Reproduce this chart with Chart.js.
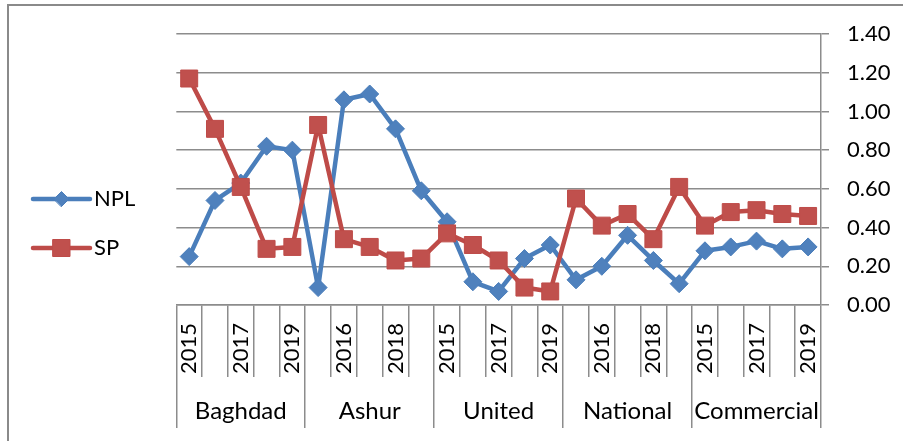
<!DOCTYPE html>
<html>
<head>
<meta charset="utf-8">
<script src="https://cdn.jsdelivr.net/npm/chart.js@4.4.1/dist/chart.umd.min.js"></script>
<style>
  html, body { margin: 0; padding: 0; background: #fff; }
  #wrap { width: 903px; height: 441px; position: relative; }
  canvas { display: block; }
</style>
</head>
<body>
<div id="wrap"><canvas id="c" width="903" height="441"></canvas></div>
<script>
// ---- data ----
const banks = ['Baghdad', 'Ashur', 'United', 'National', 'Commercial'];
const years = ['2015', '2016', '2017', '2018', '2019'];
const npl = [0.25, 0.54, 0.63, 0.82, 0.80,
             0.09, 1.06, 1.09, 0.91, 0.59,
             0.43, 0.12, 0.07, 0.24, 0.31,
             0.13, 0.20, 0.36, 0.23, 0.11,
             0.28, 0.30, 0.33, 0.29, 0.30];
const sp  = [1.17, 0.91, 0.61, 0.29, 0.30,
             0.93, 0.34, 0.30, 0.23, 0.24,
             0.37, 0.31, 0.23, 0.09, 0.07,
             0.55, 0.41, 0.47, 0.34, 0.61,
             0.41, 0.48, 0.49, 0.47, 0.46];
const yMin = 0, yMax = 1.4, yStep = 0.2;

// ---- derived label tables ----
const yearLabels = banks.flatMap(() => years);
const bankLabels = banks.flatMap(b => years.map((y, j) => (j === 2 ? b : '')));

const GRID = '#8c8c8c';
const BLUE_LINE = '#4A7EBB', BLUE_FILL = '#4F81BD';
const RED_LINE = '#BE4B48', RED_FILL = '#C0504D';
const FONT = 'Lato';

const frame = {
  id: 'frame',
  beforeDraw(chart) {
    const ctx = chart.ctx;
    ctx.save();
    ctx.fillStyle = '#fff';
    ctx.fillRect(0, 0, chart.width, chart.height);
    ctx.strokeStyle = '#8a8a8a';
    ctx.lineWidth = 2;
    ctx.beginPath();
    ctx.moveTo(8, chart.height);
    ctx.lineTo(8, 5);
    ctx.lineTo(chart.width, 5);
    ctx.stroke();
    ctx.restore();
  }
};

const legendMarks = {
  id: 'legendMarks',
  afterDraw(chart) {
    const lg = chart.legend;
    if (!lg || !lg.legendHitBoxes) return;
    const ctx = chart.ctx;
    lg.legendItems.forEach((item, i) => {
      const hb = lg.legendHitBoxes[i];
      const ds = chart.data.datasets[item.datasetIndex];
      const x0 = hb.left + 3, x1 = hb.left + 60, y = hb.top + hb.height / 2;
      const cx = (x0 + x1) / 2;
      ctx.save();
      ctx.strokeStyle = ds.borderColor;
      ctx.lineWidth = 4.5;
      ctx.lineCap = 'round';
      ctx.beginPath();
      ctx.moveTo(x0, y);
      ctx.lineTo(x1, y);
      ctx.stroke();
      ctx.fillStyle = ds.pointBackgroundColor;
      ctx.strokeStyle = ds.pointBorderColor;
      ctx.lineWidth = 1;
      ctx.beginPath();
      if (ds.pointStyle === 'rectRot') {
        const r = 7.5;
        ctx.moveTo(cx - r, y); ctx.lineTo(cx, y - r); ctx.lineTo(cx + r, y); ctx.lineTo(cx, y + r);
        ctx.closePath();
      } else {
        const h = 8.5;
        ctx.rect(cx - h, y - h, 2 * h, 2 * h);
      }
      ctx.fill();
      ctx.stroke();
      ctx.restore();
    });
  }
};

new Chart(document.getElementById('c'), {
  type: 'line',
  data: {
    labels: yearLabels,
    datasets: [
      {
        label: 'NPL', data: npl, order: 1,
        borderColor: BLUE_LINE, backgroundColor: BLUE_FILL, borderWidth: 4.5,
        borderJoinStyle: 'round', borderCapStyle: 'round', tension: 0,
        pointStyle: 'rectRot', pointRadius: 9, pointBorderWidth: 1,
        pointBackgroundColor: BLUE_FILL, pointBorderColor: BLUE_LINE,
        xAxisID: 'x', yAxisID: 'y'
      },
      {
        label: 'SP', data: sp, order: 0,
        borderColor: RED_LINE, backgroundColor: RED_FILL, borderWidth: 4.5,
        borderJoinStyle: 'round', borderCapStyle: 'round', tension: 0,
        pointStyle: 'rect', pointRadius: 12, pointBorderWidth: 1,
        pointBackgroundColor: RED_FILL, pointBorderColor: RED_LINE,
        xAxisID: 'x', yAxisID: 'y'
      }
    ]
  },
  options: {
    responsive: false,
    devicePixelRatio: 1,
    animation: false,
    events: [],
    layout: { padding: { left: 20, top: 34, right: 0, bottom: 28 } },
    plugins: {
      tooltip: { enabled: false },
      title: { display: false },
      legend: {
        display: true,
        position: 'left',
        align: 'center',
        labels: {
          boxWidth: 53, boxHeight: 39, padding: 10,
          color: '#000',
          font: { family: FONT, size: 22 },
          sort: (a, b) => a.datasetIndex - b.datasetIndex,
          generateLabels(chart) {
            const items = Chart.defaults.plugins.legend.labels.generateLabels(chart);
            items.forEach(it => { it.fillStyle = 'rgba(0,0,0,0)'; it.strokeStyle = 'rgba(0,0,0,0)'; it.lineWidth = 0; });
            return items;
          }
        }
      }
    },
    scales: {
      x: {
        type: 'category', position: 'bottom', offset: true, weight: 0,
        grid: { offset: true, drawOnChartArea: false, drawTicks: true, tickLength: 72, color: GRID, lineWidth: 1.5 },
        border: { display: true, color: GRID, width: 1.5 },
        ticks: {
          autoSkip: false, minRotation: 90, maxRotation: 90, padding: -54,
          color: '#000', font: { family: FONT, size: 22 },
          callback(v, i) { return i % 2 ? '' : this.getLabelForValue(v); }
        },
        afterFit(s) { s.height = 72; }
      },
      x2: {
        type: 'category', labels: bankLabels, position: 'bottom', offset: true, weight: 1,
        grid: {
          offset: true, drawOnChartArea: false, drawTicks: true, tickLength: 51, lineWidth: 1.5,
          color: (c) => (c.index === undefined || c.index % 5 === 0) ? GRID : 'rgba(0,0,0,0)'
        },
        border: { display: false },
        ticks: {
          autoSkip: false, minRotation: 0, maxRotation: 0, mirror: true, padding: -49,
          color: '#000', font: { family: FONT, size: 24 }
        },
        afterFit(s) { s.height = 36; }
      },
      y: {
        type: 'linear', position: 'right', min: yMin, max: yMax,
        grid: { color: GRID, lineWidth: 1.5, drawTicks: true, tickLength: 8 },
        border: { display: true, color: GRID, width: 1.5 },
        ticks: {
          stepSize: yStep, padding: 18, color: '#000',
          font: { family: FONT, size: 22 },
          callback: (v) => Number(v).toFixed(2)
        },
        afterFit(s) { s.width = 82; }
      },
      yL: {
        type: 'linear', position: 'left', display: true,
        grid: { display: false }, border: { display: false }, ticks: { display: false },
        afterFit(s) { s.width = 31; }
      }
    }
  },
  plugins: [frame, legendMarks]
});
</script>
</body>
</html>
